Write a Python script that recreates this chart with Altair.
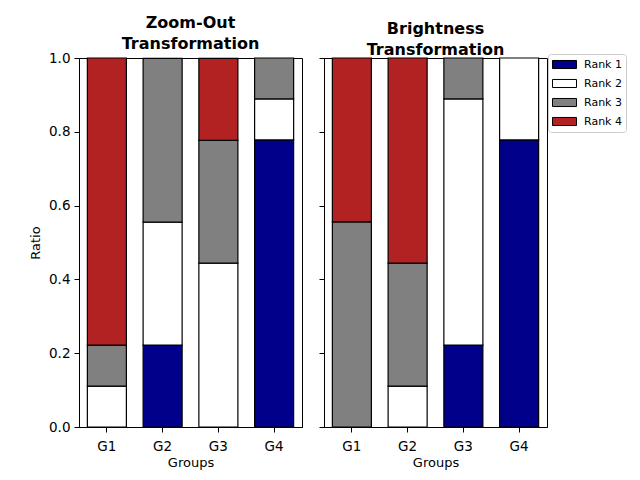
import altair as alt
import pandas as pd

groups = ["G1", "G2", "G3", "G4"]
ranks = ["Rank 1", "Rank 2", "Rank 3", "Rank 4"]
colors = ["#00008B", "#FFFFFF", "#808080", "#B22222"]

# Zoom-Out ratios per rank
zo_r1 = [0.000, 0.222, 0.000, 0.778]
zo_r2 = [0.111, 0.333, 0.444, 0.111]
zo_r3 = [0.111, 0.444, 0.333, 0.111]
zo_r4 = [0.778, 0.000, 0.222, 0.000]

# Brightness ratios per rank
br_r1 = [0.000, 0.000, 0.222, 0.778]
br_r2 = [0.000, 0.111, 0.667, 0.222]
br_r3 = [0.556, 0.333, 0.111, 0.000]
br_r4 = [0.444, 0.556, 0.000, 0.000]


def to_df(series):
    rows = []
    for i, vals in enumerate(series):
        for g, v in zip(groups, vals):
            if v > 0:
                rows.append({"group": g, "rank": ranks[i], "idx": i, "ratio": v})
    return pd.DataFrame(rows)


FONT = "DejaVu Sans"
yticks = [0, 0.2, 0.4, 0.6, 0.8, 1.0]


def panel(df, title, first):
    if first:
        yax = alt.Axis(title="Ratio", values=yticks, format=".1f", grid=False,
                       titleFontWeight="normal", titleFontSize=13, titlePadding=6)
    else:
        yax = alt.Axis(title=None, values=yticks, labels=False, grid=False)
    return alt.Chart(df).mark_bar(stroke="black", strokeWidth=1.2).encode(
        x=alt.X("group:N", sort=groups,
                scale=alt.Scale(paddingInner=0.3, paddingOuter=0.15),
                axis=alt.Axis(title="Groups", labelAngle=0, titleFontWeight="normal",
                              titleFontSize=13, grid=False, labelPadding=7)),
        y=alt.Y("ratio:Q", stack="zero", scale=alt.Scale(domain=[0, 1], nice=False), axis=yax),
        color=alt.Color("rank:N", scale=alt.Scale(domain=ranks, range=colors),
                        legend=alt.Legend(title=None)),
        order=alt.Order("idx:Q", sort="ascending"),
    ).properties(
        width=223, height=369,
        title=alt.TitleParams(title, fontSize=16, fontWeight="bold", font=FONT,
                              lineHeight=21, offset=-1),
    )


left = panel(to_df([zo_r1, zo_r2, zo_r3, zo_r4]), ["Zoom-Out", "Transformation"], True)
right = panel(to_df([br_r1, br_r2, br_r3, br_r4]), ["Brightness", "Transformation"], False)

chart = alt.hconcat(left, right, spacing=15).properties(
    padding={"left": 21, "top": 6, "right": 0, "bottom": 0}
).configure_view(
    stroke="black", strokeWidth=1
).configure_axis(
    labelFont=FONT, titleFont=FONT, labelFontSize=13.5, labelColor="black",
    titleColor="black", domainColor="black", tickColor="black", tickSize=5,
    labelPadding=4,
).configure_legend(
    orient="none", legendX=469, legendY=-4, labelFont=FONT, labelFontSize=11,
    labelColor="black", labelOffset=13, symbolOffset=6,
    symbolType="M-2,-0.67L2,-0.67L2,0.67L-2,0.67Z", symbolSize=144,
    symbolStrokeColor="black", symbolStrokeWidth=1, symbolOpacity=1,
    strokeColor="#cccccc", cornerRadius=3, padding=4, rowPadding=6,
)

chart.save("out.html", embed_options={"renderer": "svg", "actions": False})
